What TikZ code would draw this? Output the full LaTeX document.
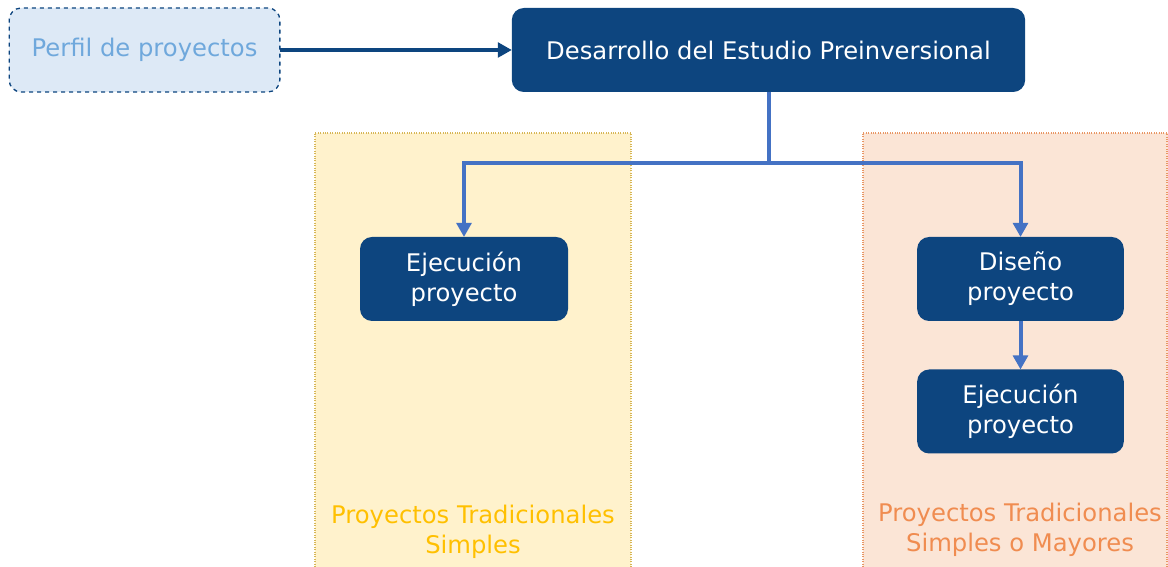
\documentclass[tikz,border=0pt]{standalone}
\usepackage{fontspec}
\setmainfont{DejaVu Sans}
\usetikzlibrary{arrows.meta}
\definecolor{navy}{RGB}{13,69,127}
\definecolor{perfilfill}{RGB}{221,233,246}
\definecolor{perfiltext}{RGB}{111,168,220}
\definecolor{linkblue}{RGB}{68,114,196}
\definecolor{simplefill}{RGB}{255,242,204}
\definecolor{simpleline}{RGB}{214,182,86}
\definecolor{simpletext}{RGB}{255,192,0}
\definecolor{mayorfill}{RGB}{251,229,214}
\definecolor{mayorline}{RGB}{232,150,100}
\definecolor{mayortext}{RGB}{240,140,80}
\begin{document}
\begin{tikzpicture}[x=0.75pt,y=0.75pt,
    every node/.style={font=\fontsize{18.2}{22.5}\selectfont,align=center,inner sep=0pt,outer sep=0pt},
    stagebox/.style={fill=navy,text=white,rounded corners=9pt,minimum height=63pt},
    link/.style={draw=linkblue,line width=3pt,-{Triangle[length=10.5pt,width=11pt]}}]
        \useasboundingbox (0,0) rectangle (1168,567);
        %% Panels
        \fill[simplefill] (315,0) rectangle (631,434);
        \draw[simpleline,densely dotted,line width=0.8pt] (315,0) -- (315,434) -- (631,434) -- (631,0);
        \fill[mayorfill] (863,0) rectangle (1168,434);
        \draw[mayorline,densely dotted,line width=0.8pt] (863,0) -- (863,434) -- (1167,434) -- (1167,0);
        %% Boxes
        \node[fill=perfilfill,draw=navy,dashed,line width=1pt,rounded corners=9pt,text=perfiltext,
              minimum width=203pt,minimum height=63pt] (perfil) at (144.5,517) {Perfil de proyectos};
        \node[stagebox,minimum width=385pt] (desarrollo) at (768.5,517) {Desarrollo del Estudio Preinversional};
        \node[stagebox,minimum width=156pt] (ejecucionA) at (464,288) {Ejecución\\proyecto};
        \node[stagebox,minimum width=155pt] (diseno) at (1020.5,288) {Diseño\\proyecto};
        \node[stagebox,minimum width=155pt] (ejecucionB) at (1020.5,155.5) {Ejecución\\proyecto};
        \coordinate (fork) at (768.5,404);
        %% Connectors
        \draw[link,draw=navy,line width=2.5pt] (perfil) -- (desarrollo);
        \draw[draw=linkblue,line width=3pt] (desarrollo.south) -- (fork);
        \draw[link] (fork) -| (ejecucionA.north);
        \draw[link] (fork) -| (diseno.north);
        \draw[link] (diseno) -- (ejecucionB);
        %% Labels
        \node[text=simpletext] (simples) at (473,35) {Proyectos Tradicionales\\Simples};
        \node[text=mayortext] (mayores) at (1020,37) {Proyectos Tradicionales\\Simples o Mayores};
    \end{tikzpicture}
\end{document}
